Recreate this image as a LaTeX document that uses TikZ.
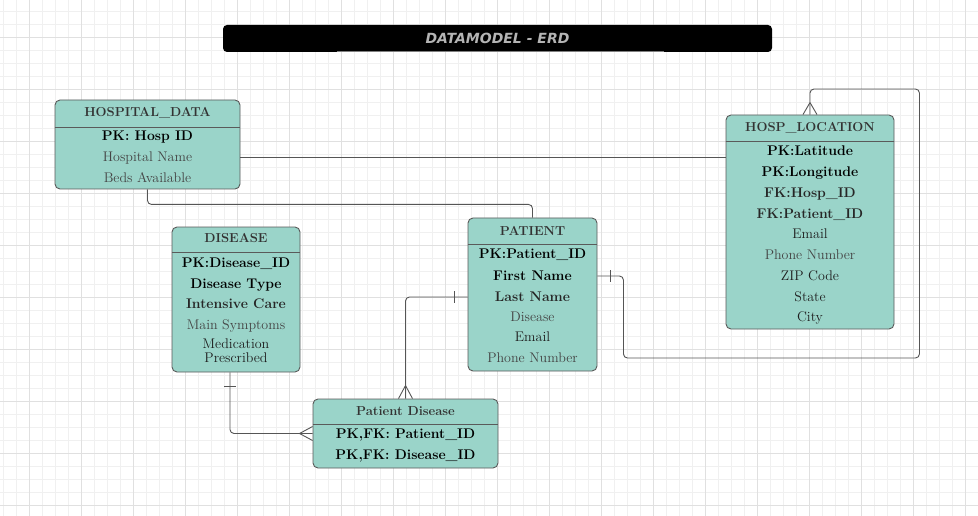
\documentclass[tikz,border=0pt]{standalone}
\usepackage{fontspec}
\newfontfamily\titlefont{DejaVu Sans}
\definecolor{erdteal}{HTML}{9AD4C9}
\definecolor{boxline}{HTML}{5A5A5A}
\definecolor{connline}{HTML}{555555}
\definecolor{titlegray}{HTML}{333333}
\definecolor{keygray}{HTML}{262626}
\definecolor{attrdark}{HTML}{1E1E1E}
\definecolor{attrlight}{HTML}{444444}
\definecolor{gridminor}{HTML}{F0F0F0}
\definecolor{gridmajor}{HTML}{E0E0E0}
\definecolor{bartext}{HTML}{B4B4B4}
\tikzset{
	entity/.style={draw=boxline, fill=erdteal, rounded corners=5pt, line width=0.9pt, inner sep=0pt},
	divider/.style={draw=boxline, line width=0.9pt},
	enttitle/.style={font=\fontsize{13}{15}\selectfont\bfseries, text=titlegray, inner sep=0pt, text height=9pt, text depth=0pt},
	key/.style={font=\fontsize{14}{16}\selectfont\bfseries, text=black, inner sep=0pt, text height=9.6pt, text depth=0pt},
	fkey/.style={key, text=keygray},
	attr/.style={font=\fontsize{14}{16}\selectfont, text=attrdark, inner sep=0pt, text height=9.6pt, text depth=0pt},
	attrlt/.style={attr, text=attrlight},
	conn/.style={draw=connline, line width=0.9pt, rounded corners=4pt},
	relmark/.style={draw=connline, line width=0.9pt},
	titlebar/.style={fill=black, rounded corners=4pt, minimum width=549pt, minimum height=27pt, inner sep=0pt,
		text=bartext, font=\titlefont\fontsize{14}{16}\selectfont\bfseries\itshape}
}
\begin{document}
\begin{tikzpicture}[x=1pt, y=-1pt]
	\useasboundingbox (0,0) rectangle (978,516);
	\fill[white] (0,0) rectangle (978,516);
	% grid
	\foreach \gx in {3,16,...,978} \draw[gridminor, line width=0.7pt] (\gx,0) -- (\gx,516);
	\foreach \gy in {11,24,...,516} \draw[gridminor, line width=0.7pt] (0,\gy) -- (978,\gy);
	\foreach \gx in {29,81,...,978} \draw[gridmajor, line width=0.8pt] (\gx,0) -- (\gx,516);
	\foreach \gy in {37,89,...,516} \draw[gridmajor, line width=0.8pt] (0,\gy) -- (978,\gy);

	% title
	\node[titlebar] (bar) at (497.5,38.5) {DATAMODEL - ERD};
	\draw[color=gray, line width=1pt] ([xshift=-161pt,yshift=1pt]bar.south) -- ([xshift=166pt,yshift=1pt]bar.south);

	% HOSPITAL_DATA
	\node[entity, minimum width=185pt, minimum height=89pt] (hd) at (147.5,144.5) {};
	\draw[divider] (hd.west |- 0,127) -- (hd.east |- 0,127);
	\node[enttitle] (hd-t) at (147.5,112) {HOSPITAL\_DATA};
	\node[key] (hd-1) at (147.5,136) {PK: Hosp ID};
	\node[attrlt] (hd-2) at (147.5,157) {Hospital Name};
	\node[attrlt] (hd-3) at (147.5,178) {Beds Available};

	% HOSP_LOCATION
	\node[entity, minimum width=168pt, minimum height=214pt] (hl) at (810,222) {};
	\draw[divider] (hl.west |- 0,141) -- (hl.east |- 0,141);
	\node[enttitle] (hl-t) at (810,127) {HOSP\_LOCATION};
	\node[key] (hl-1) at (810,151) {PK:Latitude};
	\node[key] (hl-2) at (810,172) {PK:Longitude};
	\node[fkey] (hl-3) at (810,193) {FK:Hosp\_ID};
	\node[fkey] (hl-4) at (810,214) {FK:Patient\_ID};
	\node[attr] (hl-5) at (810,234) {Email};
	\node[attrlt] (hl-6) at (810,255) {Phone Number};
	\node[attr] (hl-7) at (810,276) {ZIP Code};
	\node[attr] (hl-8) at (810,297) {State};
	\node[attr] (hl-9) at (810,317) {City};

	% PATIENT
	\node[entity, minimum width=129pt, minimum height=153pt] (pt) at (532.5,294.5) {};
	\draw[divider] (pt.west |- 0,244) -- (pt.east |- 0,244);
	\node[enttitle] (pt-t) at (532.5,231) {PATIENT};
	\node[key] (pt-1) at (532.5,254) {PK:Patient\_ID};
	\node[key] (pt-2) at (532.5,276) {First Name};
	\node[fkey] (pt-3) at (532.5,297) {Last Name};
	\node[attrlt] (pt-4) at (532.5,317) {Disease};
	\node[attr] (pt-5) at (532.5,337) {Email};
	\node[attrlt] (pt-6) at (532.5,358) {Phone Number};

	% DISEASE
	\node[entity, minimum width=128pt, minimum height=145pt] (ds) at (236,299.5) {};
	\draw[divider] (ds.west |- 0,252) -- (ds.east |- 0,252);
	\node[enttitle] (ds-t) at (236,238) {DISEASE};
	\node[key] (ds-1) at (236,263) {PK:Disease\_ID};
	\node[key] (ds-2) at (236,284) {Disease Type};
	\node[fkey] (ds-3) at (236,304) {Intensive Care};
	\node[attrlt] (ds-4) at (236,325) {Main Symptoms};
	\node[attr] (ds-5) at (236,344) {Medication};
	\node[attr] (ds-6) at (236,358) {Prescribed};

	% Patient Disease
	\node[entity, minimum width=185pt, minimum height=69pt] (pd) at (405.5,433.5) {};
	\draw[divider] (pd.west |- 0,424) -- (pd.east |- 0,424);
	\node[enttitle] (pd-t) at (405.5,411) {Patient Disease};
	\node[key] (pd-1) at (405.5,434) {PK,FK: Patient\_ID};
	\node[key] (pd-2) at (405.5,455) {PK,FK: Disease\_ID};

	% relationships
	\draw[conn] (hd.east |- hd-2) -- (hl.west |- hd-2);
	\draw[conn] (hd.south) -- ++(0,15) -| (pt.north);
	\draw[conn] ([xshift=-6pt]ds.south) |- (pd.west);
	\draw[conn] (pt.west |- pt-3) -| (pd.north);
	\draw[conn] (pt.east |- pt-2) -| ++(26,82) -| ++(296,-269) -| (hl.north);

	% one marks
	\draw[relmark] ([xshift=-12pt,yshift=-14pt]ds.south) -- ([yshift=-14pt]ds.south);
	\draw[relmark] ([xshift=-13pt]pt.west |- pt-3) ++(0,-6) -- ++(0,12);
	\draw[relmark] ([xshift=13pt]pt.east |- pt-2) ++(0,-6) -- ++(0,12);
	% many marks
	\draw[relmark] ([yshift=12pt]hl.north) -- ([xshift=-7pt]hl.north) ([yshift=12pt]hl.north) -- ([xshift=7pt]hl.north);
	\draw[relmark] ([yshift=13pt]pd.north) -- ([xshift=-7pt]pd.north) ([yshift=13pt]pd.north) -- ([xshift=7pt]pd.north);
	\draw[relmark] ([xshift=-13pt]pd.west) -- ([yshift=7pt]pd.west) ([xshift=-13pt]pd.west) -- ([yshift=-7pt]pd.west);
\end{tikzpicture}
\end{document}
